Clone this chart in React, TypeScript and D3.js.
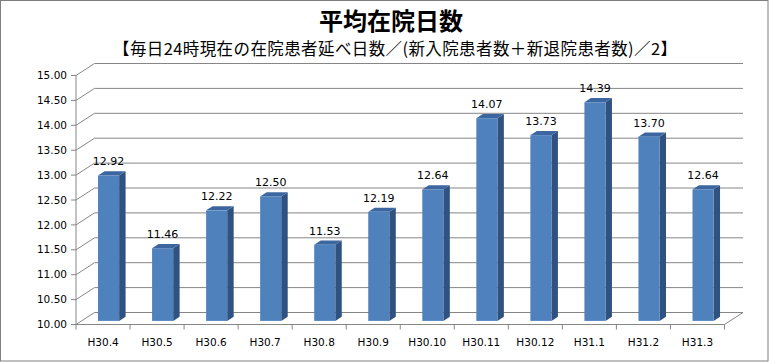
import React from 'react';
import * as d3 from 'd3';

// chart data
const categories = ['H30.4', 'H30.5', 'H30.6', 'H30.7', 'H30.8', 'H30.9', 'H30.10', 'H30.11', 'H30.12', 'H31.1', 'H31.2', 'H31.3'];
const values = [12.92, 11.46, 12.22, 12.5, 11.53, 12.19, 12.64, 14.07, 13.73, 14.39, 13.7, 12.64];
const yTicks = [10, 10.5, 11, 11.5, 12, 12.5, 13, 13.5, 14, 14.5, 15];

const title = '平均在院日数';
const subtitle = '【毎日24時現在の在院患者延べ日数／(新入院患者数＋新退院患者数)／2】';

const W = 769;
const H = 362;
// depth offset of the 3d back wall
const DX = 18.5;
const DY = -12;
const T_FRONT = 0.3;
const T_BACK = 0.65;

const GRID = '#868686';
const FONT = '"DejaVu Sans", Verdana, sans-serif';

const App = () => {
    const x = d3.scaleBand<string>()
        .domain(categories)
        .range([76, 724.5])
        .paddingInner(0.61)
        .paddingOuter(0.305);
    const y = d3.scaleLinear().domain([10, 15]).range([324.5, 75.5]);
    const step = x.step();
    const x0 = 76;
    const x1 = 724.5;
    const yb = y(10);

    return (
        <div style={{ position: 'fixed', left: 0, top: 0 }}>
            <svg width={W} height={H} style={{ display: 'block' }}>
                <rect x={0.5} y={0.5} width={W - 1.5} height={H - 1.5} fill="#fff" stroke="#7f7f7f" strokeWidth={1} />
                <text x={391} y={30} textAnchor="middle" fontFamily='"Noto Sans CJK JP", sans-serif' fontWeight="bold" fontSize={24} fill="#000">{title}</text>
                <text x={113} y={54.5} textLength={564} lengthAdjust="spacing" fontFamily='"Noto Sans CJK JP", sans-serif' fontSize={16.5} fill="#000">{subtitle}</text>

                {/* back wall gridlines and left wall diagonals */}
                <g stroke={GRID} strokeWidth={1} fill="none">
                    {yTicks.map((t, i) => (
                        <g key={i}>
                            <line x1={x0 + DX} x2={x1 + DX} y1={y(t) + DY} y2={y(t) + DY} />
                            <line x1={x0} x2={x0 + DX} y1={y(t)} y2={y(t) + DY} />
                        </g>
                    ))}
                    {/* floor */}
                    <line x1={x0} x2={x1} y1={yb} y2={yb} />
                    <line x1={x1} x2={x1 + DX} y1={yb} y2={yb + DY} />
                    {/* front value axis */}
                    <line x1={x0} x2={x0} y1={y(15)} y2={yb} />
                    {yTicks.map((t, i) => (
                        <line key={'t' + i} x1={x0 - 5} x2={x0} y1={y(t)} y2={y(t)} />
                    ))}
                    {d3.range(categories.length + 1).map(i => (
                        <line key={'c' + i} x1={x0 + i * step} x2={x0 + i * step} y1={yb} y2={yb + 5} />
                    ))}
                </g>

                {/* y tick labels */}
                {yTicks.map((t, i) => (
                    <text key={i} x={67} y={y(t)} dy="0.35em" textAnchor="end" fontFamily={FONT} fontSize={10.5} fill="#000">
                        {d3.format('.2f')(t)}
                    </text>
                ))}

                {/* bars */}
                {values.map((v, i) => {
                    const bx = (x(categories[i]) as number) + DX * T_FRONT;
                    const bw = x.bandwidth();
                    const top = y(v) + DY * T_FRONT;
                    const bot = yb + DY * T_FRONT;
                    const ddx = DX * (T_BACK - T_FRONT);
                    const ddy = DY * (T_BACK - T_FRONT);
                    return (
                        <g key={i}>
                            <path d={`M${bx + bw},${top} L${bx + bw + ddx},${top + ddy} L${bx + bw + ddx},${bot + ddy} L${bx + bw},${bot} Z`} fill="#2f5281" />
                            <path d={`M${bx},${top} L${bx + ddx},${top + ddy} L${bx + bw + ddx},${top + ddy} L${bx + bw},${top} Z`} fill="#3c66a0" />
                            <rect x={bx} y={top} width={bw} height={bot - top} fill="#4f81bd" />
                            <text x={bx + bw / 2} y={top - 10} textAnchor="middle" fontFamily={FONT} fontSize={11} fill="#000">
                                {d3.format('.2f')(v)}
                            </text>
                        </g>
                    );
                })}

                {/* category labels */}
                {categories.map((c, i) => (
                    <text key={i} x={(x(c) as number) + x.bandwidth() / 2} y={346} textAnchor="middle" fontFamily={FONT} fontSize={10.5} fill="#000">
                        {c}
                    </text>
                ))}
            </svg>
        </div>
    );
};

export default App;
